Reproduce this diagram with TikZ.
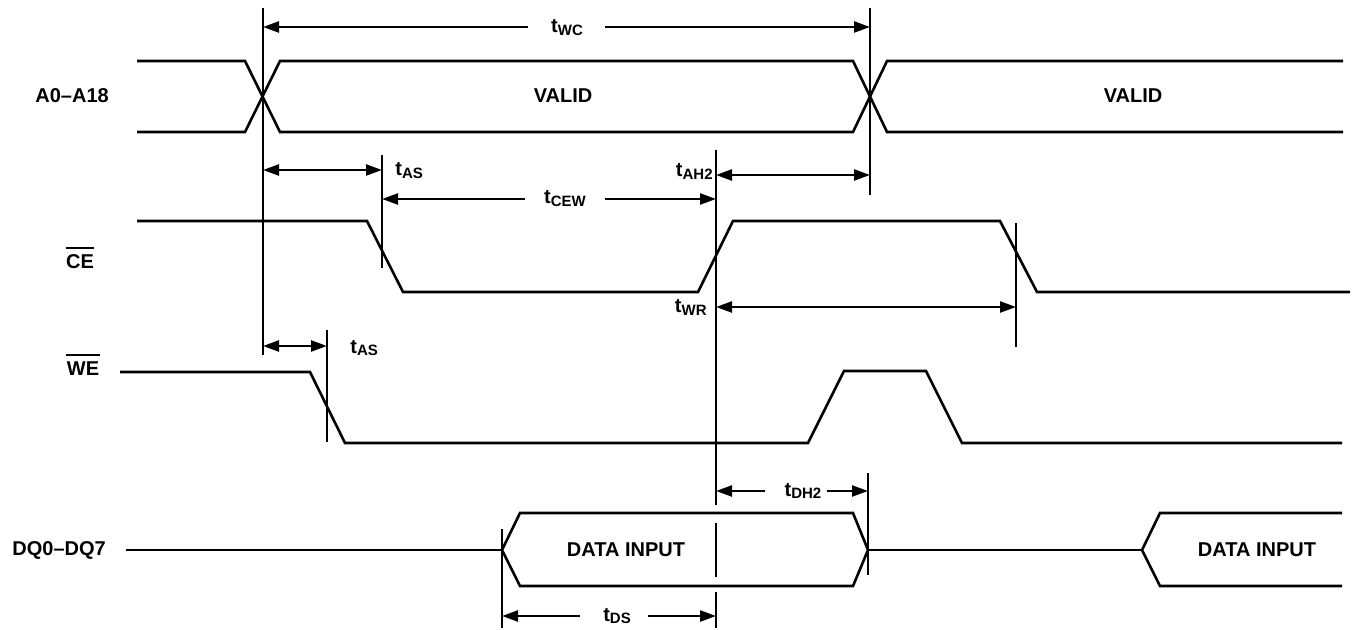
\documentclass[tikz,border=0pt]{standalone}
\usepackage{fontspec}
\setmainfont{Liberation Sans}
\usetikzlibrary{arrows.meta}
\newcommand{\tsub}[1]{t\raisebox{-1.2pt}{\fontsize{7.5}{8}\selectfont #1}}
\begin{document}
\begin{tikzpicture}[x=0.5pt,y=-0.5pt,
  wave/.style={line width=1.3pt, line join=miter},
  marker/.style={line width=1.3pt},
  dim/.style={line width=1.2pt,-{Triangle[length=8pt,width=5.5pt]}},
  dimboth/.style={line width=1.2pt,{Triangle[length=8pt,width=5.5pt]}-{Triangle[length=8pt,width=5.5pt]}},
  lbl/.style={font=\fontsize{10}{12}\selectfont\bfseries, inner sep=0pt},
  tl/.style={font=\fontsize{10}{12}\selectfont\bfseries, inner sep=0pt, anchor=base},
  ovl/.style={line width=1pt}]
\useasboundingbox (0,0) rectangle (1353,630);

% ---------- signal names ----------
\node[lbl, anchor=west] (nA) at (35,96) {A0–A18};
\node[lbl] (nCE) at (80,262) {CE};
\draw[ovl] ([yshift=3.5pt]nCE.north west) -- ([yshift=3.5pt]nCE.north east);
\node[lbl] (nWE) at (83,369) {WE};
\draw[ovl] ([yshift=3.5pt]nWE.north west) -- ([yshift=3.5pt]nWE.north east);
\node[lbl, anchor=west] (nDQ) at (12,550) {DQ0–DQ7};

% ---------- waveforms ----------
% address
\draw[wave] (137,61) -- (245,61) -- (280,132) -- (853,132) -- (887,61) -- (1343,61);
\draw[wave] (137,132) -- (245,132) -- (280,61) -- (853,61) -- (887,132) -- (1343,132);
\node[lbl] (v1) at (563,96) {VALID};
\node[lbl] (v2) at (1133,96) {VALID};
% CE
\draw[wave] (137,221) -- (367,221) -- (403,292) -- (698,292) -- (733,221) -- (1000,221) -- (1037,292) -- (1350,292);
% WE
\draw[wave] (120,372) -- (310,372) -- (345,443) -- (808,443) -- (844,371) -- (926,371) -- (962,443) -- (1342,443);
% DQ
\draw[wave] (nDQ.east) ++(20,0) coordinate (dq0) -- (502,550) coordinate (dqa);
\draw[wave] (dqa) -- (520,513) -- (853,513) -- (868,550) coordinate (dqb) -- (853,586) -- (520,586) -- cycle;
\draw[wave] (dqb) -- (1142,550) coordinate (dqc);
\draw[wave] (1342,513) -- (1160,513) -- (dqc) -- (1160,586) -- (1342,586);
\node[lbl] (d1) at (626,550) {DATA INPUT};
\node[lbl] (d2) at (1257,550) {DATA INPUT};

% ---------- timing markers ----------
\coordinate (m1t) at (263,8);   \coordinate (m1b) at (263,355);
\coordinate (m2t) at (870,8);   \coordinate (m2b) at (870,195);
\coordinate (m3t) at (382,155); \coordinate (m3b) at (382,268);
\coordinate (m4t) at (716,150); \coordinate (m4b) at (716,628);
\coordinate (m5t) at (1016,223);\coordinate (m5b) at (1016,347);
\coordinate (m6t) at (327,330); \coordinate (m6b) at (327,442);
\coordinate (m7t) at (868,473); \coordinate (m7b) at (868,575);
\coordinate (m8t) at (502,529); \coordinate (m8b) at (502,628);
\draw[marker] (m1t) -- (m1b);
\draw[marker] (m2t) -- (m2b);
\draw[marker] (m3t) -- (m3b);
\draw[marker] (m4t) -- (716,505) (716,523) -- (716,577) (716,592) -- (m4b);
\draw[marker] (m5t) -- (m5b);
\draw[marker] (m6t) -- (m6b);
\draw[marker] (m7t) -- (m7b);
\draw[marker] (m8t) -- (m8b);

% ---------- dimensions ----------
% tWC
\node[tl] (twc) at (567,33) {\tsub{WC}};
\coordinate (twcL) at (528,27); \coordinate (twcR) at (605,27);
\coordinate (twcA) at (263,27); \coordinate (twcB) at (870,27);
\draw[dim] (twcL) -- (twcA);
\draw[dim] (twcR) -- (twcB);
% tAS (CE)
\coordinate (tas1A) at (263,170); \coordinate (tas1B) at (382,170);
\draw[dimboth] (tas1A) -- (tas1B);
\node[tl, anchor=base west] (tas1) at (395,176) {\tsub{AS}};
% tCEW
\node[tl] (tcew) at (565,204) {\tsub{CEW}};
\coordinate (tcewL) at (525,199); \coordinate (tcewR) at (605,199);
\coordinate (tcewA) at (382,199); \coordinate (tcewB) at (716,199);
\draw[dim] (tcewL) -- (tcewA);
\draw[dim] (tcewR) -- (tcewB);
% tAH2
\coordinate (tahA) at (716,175); \coordinate (tahB) at (870,175);
\draw[dimboth] (tahA) -- (tahB);
\node[tl, anchor=base east] (tah) at (713,177) {\tsub{AH2}};
% tWR
\coordinate (twrA) at (716,307); \coordinate (twrB) at (1016,307);
\draw[dimboth] (twrA) -- (twrB);
\node[tl, anchor=base east] (twr) at (707,313) {\tsub{WR}};
% tAS (WE)
\coordinate (tas2A) at (263,346); \coordinate (tas2B) at (327,346);
\draw[dimboth] (tas2A) -- (tas2B);
\node[tl, anchor=base west] (tas2) at (350,353) {\tsub{AS}};
% tDH2
\node[tl] (tdh) at (803,496) {\tsub{DH2}};
\coordinate (tdhL) at (765,491); \coordinate (tdhR) at (827,491);
\coordinate (tdhA) at (716,491); \coordinate (tdhB) at (868,491);
\draw[dim] (tdhL) -- (tdhA);
\draw[dim] (tdhR) -- (tdhB);
% tDS
\node[tl] (tds) at (617,621) {\tsub{DS}};
\coordinate (tdsL) at (580,616); \coordinate (tdsR) at (648,616);
\coordinate (tdsA) at (502,616); \coordinate (tdsB) at (716,616);
\draw[dim] (tdsL) -- (tdsA);
\draw[dim] (tdsR) -- (tdsB);
\end{tikzpicture}
\end{document}
